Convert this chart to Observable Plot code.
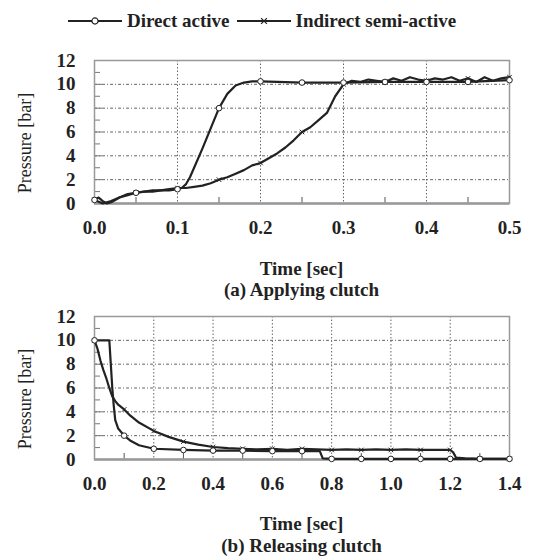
<!DOCTYPE html>
<html><head><meta charset="utf-8">
<script src="https://cdn.jsdelivr.net/npm/d3@7"></script>
<script src="https://cdn.jsdelivr.net/npm/@observablehq/plot@0.6"></script>
<style>
body{margin:0;background:#fff;font-family:"Liberation Serif","Times New Roman","DejaVu Serif",serif;color:#222;}
#wrap{position:relative;width:535px;height:556px;}
.abs{position:absolute;}
.lbl{position:absolute;left:0;width:535px;text-align:center;font-weight:bold;font-size:19px;line-height:22px;z-index:3;}
.ylab{position:absolute;font-size:18px;line-height:20px;transform:rotate(-90deg);transform-origin:center;white-space:nowrap;font-weight:normal;width:120px;text-align:center;z-index:3;}
#legend{position:absolute;top:10px;left:66px;font-weight:bold;font-size:19px;line-height:22px;display:flex;align-items:center;gap:3px;z-index:3;}
svg text{font-family:"Liberation Serif","Times New Roman","DejaVu Serif",serif;}
</style></head><body>
<div id="wrap">
<div id="p1" class="abs" style="top:40px;left:0"></div>
<div id="p2" class="abs" style="top:296px;left:0"></div>
<div id="legend"></div>
<div class="ylab" style="left:-35px;top:133px;">Pressure [bar]</div>
<div class="lbl" style="top:258px;left:34px">Time [sec]</div>
<div class="lbl" style="top:279px;left:34px">(a) Applying clutch</div>
<div class="ylab" style="left:-35px;top:389px;">Pressure [bar]</div>
<div class="lbl" style="top:513px;left:34px">Time [sec]</div>
<div class="lbl" style="top:535px;left:34px">(b) Releasing clutch</div>
</div>
<script>
const seriesNames = ["Direct active", "Indirect semi-active"];

// (a) Applying clutch
const applyDirectT = [0,0.005,0.01,0.015,0.02,0.025,0.03,0.04,0.05,0.06,0.07,0.08,0.09,0.1,0.105,0.11,0.115,0.12,0.13,0.14,0.15,0.16,0.17,0.18,0.19,0.2,0.25,0.3,0.35,0.4,0.45,0.5];
const applyDirectP = [0.3,0.5,0.2,0.0,0.1,0.3,0.5,0.7,0.9,1.0,1.0,1.1,1.1,1.2,1.3,1.6,2.2,3.0,4.6,6.3,8.0,9.2,9.9,10.15,10.25,10.25,10.15,10.15,10.2,10.2,10.2,10.35];
const applyIndirectT = [0,0.01,0.015,0.02,0.03,0.04,0.05,0.06,0.07,0.08,0.09,0.1,0.11,0.12,0.13,0.14,0.15,0.16,0.17,0.18,0.19,0.2,0.21,0.22,0.23,0.24,0.25,0.26,0.27,0.28,0.29,0.3,0.31,0.32,0.33,0.34,0.35,0.36,0.37,0.38,0.39,0.4,0.41,0.42,0.43,0.44,0.45,0.46,0.47,0.48,0.49,0.5];
const applyIndirectP = [0.3,0.0,0.1,0.2,0.5,0.8,0.9,1.0,1.1,1.1,1.2,1.3,1.3,1.4,1.5,1.7,2.0,2.2,2.5,2.8,3.2,3.4,3.8,4.2,4.7,5.3,6.0,6.4,7.0,7.6,9.0,10.0,10.3,10.2,10.4,10.3,10.2,10.5,10.3,10.6,10.4,10.3,10.5,10.4,10.6,10.3,10.5,10.2,10.6,10.3,10.5,10.6];

// (b) Releasing clutch
const releaseDirectT = [0,0.02,0.05,0.055,0.06,0.065,0.07,0.08,0.1,0.12,0.15,0.2,0.3,0.4,0.5,0.6,0.7,0.76,0.77,0.8,0.9,1.0,1.1,1.2,1.3,1.4];
const releaseDirectP = [10,10,10,8,6,4.5,3.3,2.6,2.0,1.6,1.2,0.9,0.8,0.75,0.75,0.7,0.7,0.7,0.1,0.05,0.05,0.05,0.05,0.05,0.05,0.05];
const releaseIndirectT = [0,0.01,0.02,0.03,0.04,0.05,0.06,0.07,0.08,0.1,0.12,0.15,0.2,0.25,0.3,0.35,0.4,0.45,0.5,0.55,0.6,0.65,0.7,0.75,0.8,0.85,0.9,0.95,1.0,1.05,1.1,1.15,1.2,1.21,1.22,1.25,1.3,1.35,1.4];
const releaseIndirectP = [10,9.3,8.3,7.5,6.8,6.0,5.3,4.9,4.6,4.2,3.7,3.1,2.4,1.9,1.5,1.25,1.05,0.95,0.9,0.85,0.9,0.8,0.9,0.85,0.8,0.85,0.8,0.85,0.8,0.85,0.8,0.8,0.8,0.6,0.15,0.1,0.05,0.05,0.05];

const yTicks = [0,2,4,6,8,10,12];
const yMinor = [1,3,5,7,9,11];
const applyXTicks = [0,0.1,0.2,0.3,0.4,0.5];
const applyXMinor = [0.05,0.15,0.25,0.35,0.45];
const releaseXTicks = [0,0.2,0.4,0.6,0.8,1.0,1.2,1.4];
const releaseXMinor = [0.1,0.3,0.5,0.7,0.9,1.1,1.3];

const rows = (T,P) => T.map((t,i)=>({t, p:P[i]}));
const INK = "#222";
const SERIF = '"Liberation Serif","Times New Roman","DejaVu Serif",serif';

function panel(direct, indirect, xDomain, xTicks, xMinor, markStep){
  const isMark = d => Math.abs(d.t/markStep - Math.round(d.t/markStep)) < 1e-6;
  return Plot.plot({
    width: 535, height: 200,
    marginTop: 20, marginBottom: 37, marginLeft: 94, marginRight: 26,
    style: {fontFamily: SERIF, fontSize: "19px", fontWeight: "bold", color: INK, background: "transparent"},
    x: {domain: xDomain, ticks: xTicks, tickFormat: d3.format(".1f"), label: null},
    y: {domain: [0,12], ticks: yTicks, label: null},
    marks: [
      Plot.gridX(xTicks.slice(1,-1), {stroke: "#666", strokeOpacity: 1, strokeDasharray: "1.5,2", strokeWidth: 1}),
      Plot.gridY(yTicks.slice(1,-1), {stroke: "#666", strokeOpacity: 1, strokeDasharray: "3,2,1,2", strokeWidth: 1}),
      Plot.axisX({ticks: xTicks, tickSize: 0, tickPadding: 17, tickFormat: d3.format(".1f"), fontSize: 19, fontWeight: "bold", fontFamily: SERIF}),
      Plot.axisY({ticks: yTicks, tickSize: 0, tickPadding: 19, fontSize: 19, fontWeight: "bold", fontFamily: SERIF}),
      Plot.axisY({ticks: yMinor, tickSize: -6, text: null, stroke: "#777"}),
      Plot.axisY({ticks: yTicks.slice(1,-1), tickSize: -8, text: null, stroke: "#777"}),
      Plot.axisX({ticks: xMinor, tickSize: -6, text: null, stroke: "#555"}),
      Plot.frame({stroke: "#999", strokeWidth: 1.5}),
      Plot.ruleY([0], {stroke: "#999", strokeWidth: 2.5}),
      Plot.line(indirect, {x: "t", y: "p", stroke: INK, strokeWidth: 2.2}),
      Plot.line(direct, {x: "t", y: "p", stroke: INK, strokeWidth: 2.2}),
      Plot.dot(indirect.filter(isMark), {x: "t", y: "p", symbol: "times", r: 2.2, stroke: INK, strokeWidth: 1}),
      Plot.dot(direct.filter(isMark), {x: "t", y: "p", symbol: "circle", r: 2.8, stroke: INK, fill: "#fff", strokeWidth: 1})
    ]
  });
}

document.getElementById("p1").append(panel(rows(applyDirectT,applyDirectP), rows(applyIndirectT,applyIndirectP), [0,0.5], applyXTicks, applyXMinor, 0.05));
document.getElementById("p2").append(panel(rows(releaseDirectT,releaseDirectP), rows(releaseIndirectT,releaseIndirectP), [0,1.4], releaseXTicks, releaseXMinor, 0.1));

// legend
const lg = document.getElementById("legend");
seriesNames.forEach((name,i)=>{
  const s = d3.create("svg").attr("width",58).attr("height",14);
  s.append("line").attr("x1",2).attr("x2",56).attr("y1",7).attr("y2",7).attr("stroke",INK).attr("stroke-width",2);
  s.append("path").attr("transform","translate(29,7)").attr("d", d3.symbol(i===0?d3.symbolCircle:d3.symbolTimes, i===0?30:24)()).attr("fill", i===0?"#fff":"none").attr("stroke",INK).attr("stroke-width",1.2);
  const span = document.createElement("span");
  span.textContent = name;
  span.style.marginRight = "2px";
  lg.append(s.node(), span);
});
</script>
</body></html>
